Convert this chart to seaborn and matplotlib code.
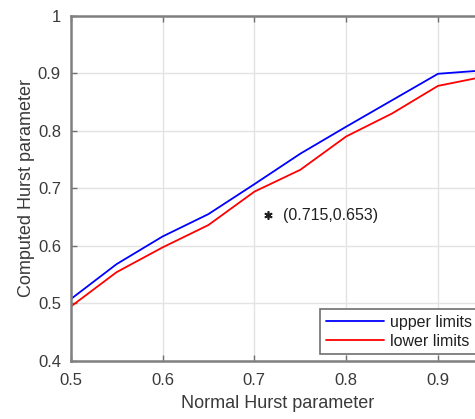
import pandas as pd
import matplotlib
matplotlib.use("Agg")
import matplotlib.pyplot as plt
import seaborn as sns

# values
normal_h = [0.5, 0.55, 0.6, 0.65, 0.7, 0.75, 0.8, 0.85, 0.9, 0.95]
upper_limits = [0.507, 0.568, 0.616, 0.655, 0.707, 0.760, 0.807, 0.853, 0.899, 0.905]
lower_limits = [0.494, 0.554, 0.597, 0.636, 0.694, 0.732, 0.790, 0.830, 0.878, 0.894]
point_x, point_y = 0.715, 0.653
x_ticks = [0.5, 0.6, 0.7, 0.8, 0.9]
y_ticks = [0.4, 0.5, 0.6, 0.7, 0.8, 0.9, 1.0]
y_ticklabels = ["0.4", "0.5", "0.6", "0.7", "0.8", "0.9", "1"]

df = pd.DataFrame({
    "x": normal_h * 2,
    "y": upper_limits + lower_limits,
    "series": ["upper limits"] * len(normal_h) + ["lower limits"] * len(normal_h),
})

sns.set_style("whitegrid")
plt.rcParams["font.family"] = ["Liberation Sans", "DejaVu Sans"]

text_col = "#3a3a3a"
fig = plt.figure(figsize=(4.75, 4.19), dpi=100)
ax = fig.add_axes([0.1488, 0.1391, 0.870, 0.8234])

sns.lineplot(data=df, x="x", y="y", hue="series",
             palette={"upper limits": "#0000ff", "lower limits": "#ff0000"},
             linewidth=1.3, ax=ax)

# MATLAB style asterisk marker
ax.plot([point_x], [point_y], marker=(6, 2, 0), color="#202020", markersize=6,
        markeredgewidth=1.2, linestyle="none")
ax.text(point_x + 0.0165, point_y, "(%.3f,%.3f)" % (point_x, point_y),
        fontsize=11.5, color="#202020", va="center", ha="left")

ax.set_xlim(0.5, 0.95)
ax.set_ylim(0.4, 1.0)
ax.set_xticks(x_ticks)
ax.set_xticklabels([str(t) for t in x_ticks])
ax.set_yticks(y_ticks)
ax.set_yticklabels(y_ticklabels)
ax.set_xlabel("Normal Hurst parameter", fontsize=13, color=text_col, labelpad=5)
ax.set_ylabel("Computed Hurst parameter", fontsize=13, color=text_col, labelpad=2)

ax.grid(True, color="#e3e3e3", linewidth=1)
ax.tick_params(axis="both", direction="in", length=4, width=1, colors="#707070",
               labelcolor=text_col, labelsize=12, top=True, right=True, left=True, bottom=True)
ax.tick_params(axis="x", pad=9)
ax.tick_params(axis="y", pad=7)
for s in ax.spines.values():
    s.set_color("#808080")
    s.set_linewidth(1.8)

leg = ax.legend(loc="lower right", fontsize=11.5, frameon=True, fancybox=False,
                handlelength=3.6, borderaxespad=0.4, labelspacing=0.25,
                handletextpad=0.4, borderpad=0.35)
leg.get_frame().set_edgecolor("#707070")
leg.get_frame().set_linewidth(1.2)
leg.get_frame().set_alpha(1)
for t in leg.get_texts():
    t.set_color("#202020")

fig.savefig("out.png", dpi=100)
